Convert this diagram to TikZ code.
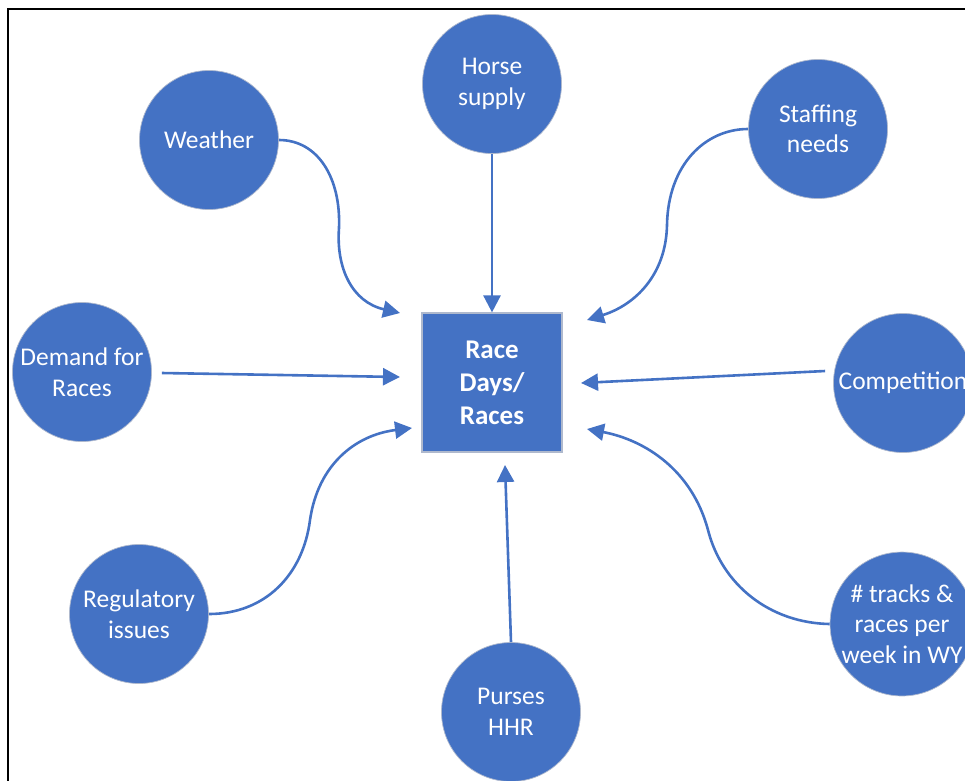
\documentclass[tikz,border=0pt]{standalone}
\usepackage{fontspec}
\setmainfont{Carlito}
\usetikzlibrary{arrows.meta}
\definecolor{blu}{RGB}{68,114,196}
\definecolor{edge}{RGB}{175,185,205}
\tikzset{
  circ/.style={circle, fill=blu, draw=edge, line width=0.7pt, minimum size=139pt, inner sep=0pt,
    text=white, align=center, font=\fontsize{25.5}{30.5}\selectfont},
  mainbox/.style={rectangle, fill=blu, draw=edge, line width=1.2pt, minimum width=140pt, minimum height=139pt,
    inner sep=0pt, text=white, align=center, font=\fontsize{27}{33}\selectfont\bfseries},
  conn/.style={draw=blu, line width=2.6pt, -{Triangle[length=17pt,width=17pt]}}
}
\begin{document}
\begin{tikzpicture}[x=1pt,y=-1pt]
\useasboundingbox (0,0) rectangle (965,780);
\begin{scope}
\clip (0,0) rectangle (965,780);
% frame
\draw[line width=2pt] (8,781) -- (8,8.5) -- (966,8.5);
% nodes
\node[mainbox] (rd) at (492,382.5) {Race\\Days/\\Races};
\node[circ] (horse) at (492,84) {Horse\\supply};
\node[circ] (weather) at (209,140) {Weather};
\node[circ] (staff) at (818,129) {Staffing\\needs};
\node[circ] (demand) at (82,372) {Demand for\\Races};
\node[circ] (comp) at (903,383) {Competition};
\node[circ] (reg) at (139,614) {Regulatory\\issues};
\node[circ] (purses) at (511,712) {Purses\\HHR};
\node[circ] (tracks) at (902,624) {\# tracks \&\\races per\\week in WY};
% arrow tips
\coordinate (tW) at (400,313);
\coordinate (tS) at (587,320);
\coordinate (tD) at (400,377);
\coordinate (tC) at (581,383);
\coordinate (tR) at (412,428);
\coordinate (tT) at (587,429);
\coordinate (tP) at (505,465);
% connectors
\draw[conn] (horse.south) -- (rd.north);
\draw[conn] (weather.east) .. controls (318,140) and (341,178) .. (339,228)
  .. controls (336,268) and (352,302) .. (tW);
\draw[conn] (staff.west) .. controls (705,129) and (668,165) .. (667,225)
  .. controls (666,275) and (635,305) .. (tS);
\draw[conn] ([shift={(10,1)}]demand.east) -- (tD);
\draw[conn] ([shift={(-8,-12)}]comp.west) -- (tC);
\draw[conn] (reg.east) .. controls (265,614) and (303,575) .. (310,520)
  .. controls (318,465) and (355,435) .. (tR);
\draw[conn] (tracks.west) .. controls (770,623) and (722,585) .. (708,530)
  .. controls (692,470) and (645,440) .. (tT);
\draw[conn] (purses.north) -- (tP);
\end{scope}
\end{tikzpicture}
\end{document}
